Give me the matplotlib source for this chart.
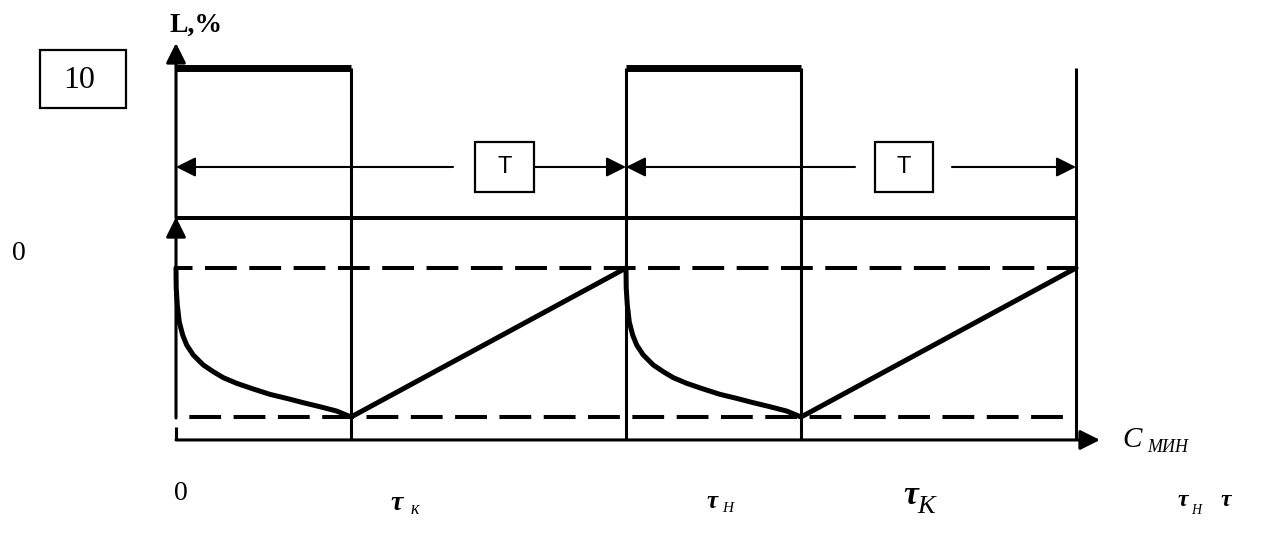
import matplotlib
matplotlib.use("Agg")
import matplotlib.pyplot as plt
from matplotlib.patches import Rectangle

# --- schematic data (time in periods T, level C relative: C_min = 0, C_max = 1)
t_marks = [0.0, 0.389, 1.0, 1.389, 2.0]       # 0, tau_k, tau_n, tau_k, tau_n
c_max = 1.0
c_min = 0.0
L_on = 100                                     # L, % while regeneration is on

# decay of C during the on-phase
decay_t = [0.0, 0.0005, 0.0029, 0.0073, 0.0149, 0.0238, 0.0384, 0.0607, 0.0829,
           0.1051, 0.1349, 0.1718, 0.2089, 0.2460, 0.2829, 0.3200, 0.3571, 0.389]
decay_c = [1.0, 0.866, 0.752, 0.638, 0.550, 0.483, 0.416, 0.349, 0.304,
           0.264, 0.226, 0.188, 0.152, 0.125, 0.096, 0.069, 0.040, 0.0]

# --- layout in diagram units
top_base = 1.336       # zero line of the L,% panel
top_scale = 1.0067     # height of 100 %
c_axis = -0.154        # time axis level
y_T = 1.678            # level of the period arrows
W, H = 1264, 543

SERIF = "Liberation Serif"
SANS = "Liberation Sans"


def px(x, y):
    """pixel position -> figure fraction (for the labels only)"""
    return x / W, 1 - y / H


def head(ax, x0, y0, x1, y1, lw=1.5):
    ax.annotate("", xy=(x1, y1), xytext=(x0, y0),
                arrowprops=dict(arrowstyle="-|>,head_length=1.2,head_width=0.6",
                                mutation_scale=10, lw=lw, color="k",
                                shrinkA=0, shrinkB=0))


def main():
    fig = plt.figure(figsize=(W / 100, H / 100), dpi=100)
    ax = fig.add_axes([0, 0, 1, 1])
    ax.set_xlim(-0.3911, 2.4178)
    ax.set_ylim(-0.8456, 2.7987)
    ax.axis("off")

    y_on = top_base + L_on / 100 * top_scale

    # top panel: on-phases of L
    for i in (0, 2):
        ax.plot([t_marks[i], t_marks[i + 1]], [y_on, y_on], color="k", lw=5,
                solid_capstyle="butt")
    ax.plot([t_marks[0], t_marks[-1]], [top_base, top_base], color="k", lw=2.9,
            solid_capstyle="butt")
    head(ax, 0, top_base, 0, 2.510, lw=2.2)

    # verticals at switching moments
    for t in t_marks[1:]:
        ax.plot([t, t], [c_axis, y_on], color="k", lw=2.2, solid_capstyle="butt")

    # period arrows with T boxes
    head(ax, 0.6156, y_T, t_marks[0], y_T)
    head(ax, 0.7956, y_T, t_marks[2], y_T)
    head(ax, 1.5089, y_T, t_marks[2], y_T)
    head(ax, 1.7244, y_T, t_marks[4], y_T)
    for x0, x1 in [(0.6644, 0.7956), (1.5533, 1.6822)]:
        ax.add_patch(Rectangle((x0, 1.5101), x1 - x0, 0.3355, fill=False,
                               lw=1.6, ec="k"))
        ax.text((x0 + x1) / 2, y_T, "T", ha="center", va="center",
                fontsize=17, family=SANS)

    # bottom panel axes
    ax.plot([0, 0], [c_axis, -0.067], color="k", lw=2.2, solid_capstyle="butt")
    head(ax, 0, -0.0067, 0, 1.342, lw=2.2)
    head(ax, 0, c_axis, 2.0533, c_axis, lw=2.2)

    # limits of C
    for lvl, off in [(c_max, 3.8), (c_min, 7.7)]:
        ax.plot([t_marks[0], t_marks[-1]], [lvl, lvl], color="k", lw=2.9,
                ls=(off, (7.9, 3.1)), dash_capstyle="butt")

    # concentration curve over two periods
    for k in (0, 1):
        ts = [t + k for t in decay_t] + [t_marks[2] + k]
        cs = decay_c + [c_max]
        ax.plot(ts, cs, color="k", lw=3.6, solid_joinstyle="round",
                solid_capstyle="round")

    # box "10"
    ax.add_patch(Rectangle((-0.3022, 2.0738), 0.1911, 0.3893, fill=False,
                           lw=1.6, ec="k"))

    # labels
    fig.text(*px(79, 81), "10", ha="center", va="center", fontsize=23, family=SERIF)
    fig.text(*px(196, 25), "L,%", ha="center", va="center", fontsize=20,
             family=SERIF, fontweight="bold")
    fig.text(*px(19, 253), "0", ha="center", va="center", fontsize=20, family=SERIF)
    fig.text(*px(181, 493), "0", ha="center", va="center", fontsize=20, family=SERIF)

    it = dict(ha="center", va="center", family=SERIF, style="italic")
    fig.text(*px(397, 503), "τ", fontsize=20, fontweight="bold", **it)
    fig.text(*px(415, 510), "к", fontsize=13, **it)
    fig.text(*px(712, 502), "τ", fontsize=18, fontweight="bold", **it)
    fig.text(*px(728, 508), "Н", fontsize=11, **it)
    fig.text(*px(911, 496), "τ", fontsize=24, fontweight="bold", **it)
    fig.text(*px(926, 507), "K", fontsize=19, **it)
    fig.text(*px(1183, 500), "τ", fontsize=17, fontweight="bold", **it)
    fig.text(*px(1196, 511), "Н", fontsize=10, **it)
    fig.text(*px(1226, 500), "τ", fontsize=17, fontweight="bold", **it)
    fig.text(*px(1132, 440), "C", fontsize=21, **it)
    fig.text(*px(1168, 447), "МИН", fontsize=13, **it)

    fig.savefig("out.png", dpi=100)


if __name__ == "__main__":
    main()
